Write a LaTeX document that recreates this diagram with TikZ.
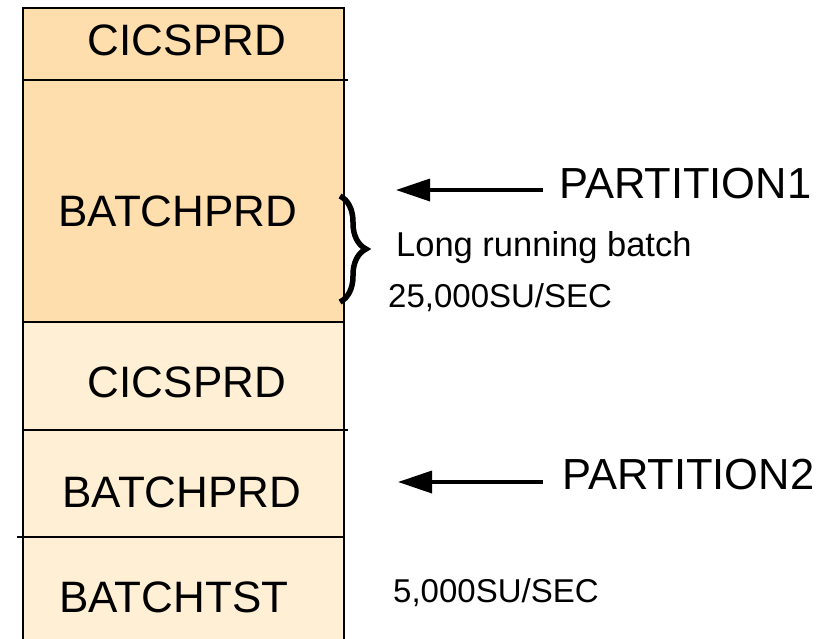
\documentclass[tikz,border=0pt]{standalone}
\usepackage{fontspec}
\setmainfont{Liberation Sans}
\usetikzlibrary{arrows.meta}
\usetikzlibrary{decorations.pathreplacing}
\usetikzlibrary{positioning}
\tikzset{sect/.style = {line width = 2, line cap = rect}}
\tikzset{lbl/.style = {inner sep = 0, font = \fontsize{44}{50}\selectfont}}
\tikzset{plbl/.style = {inner sep = 0, anchor = base west, font = \fontsize{43.5}{50}\selectfont}}
\tikzset{slbl/.style = {inner sep = 0, anchor = base west, font = \fontsize{33}{38}\selectfont}}
\tikzset{parrow/.style = {line width = 3.5, -{Triangle[length = 34, width = 22]}}}
\definecolor{mpeach}{RGB}{255, 222, 173}
\definecolor{mcream}{RGB}{255, 239, 213}

\begin{document}
\begin{tikzpicture}[x = 1pt, y = -1pt]
      \useasboundingbox (0, 0) rectangle (836, 638);

      \begin{scope}
        \clip (0, 0) rectangle (836, 638);
        \fill [mpeach] (23, 8) rectangle (344, 322);
        \fill [mcream] (23, 322) rectangle (344, 660);
        \draw [sect] (23, 660) -- (23, 8) -- (344, 8) -- (344, 660);
        \draw [sect] (23, 80) -- (347, 80);
        \draw [sect] (23, 322) -- (344, 322);
        \draw [sect] (23, 430) -- (347, 430);
        \draw [sect] (18, 537) -- (342, 537);
      \end{scope}

      \node [lbl] (cics1) at (187, 40) {CICSPRD};
      \node [lbl] (batch1) at (178, 211) {BATCHPRD};
      \node [lbl] (cics2) at (187, 382) {CICSPRD};
      \node [lbl] (batch2) at (182, 492) {BATCHPRD};
      \node [lbl] (test) at (174, 597) {BATCHTST};

      \draw [line width = 5.5, decorate, decoration = {brace, amplitude = 26}] (340, 196) -- (340, 302);

      \node [plbl] (part1) at (559, 198) {PARTITION1};
      \node [plbl] (part2) at (562, 489) {PARTITION2};
      \node [slbl] (long) at (396, 256) {\fontsize{34.5}{40}\selectfont Long running batch};
      \node [slbl] (rate1) at (388, 307) {25,000SU/SEC};
      \node [slbl] (rate2) at (393, 602) {5,000SU/SEC};

      \coordinate (tail1) at (543, 190);
      \coordinate (tip1) at (396, 190);
      \coordinate (tail2) at (543, 482);
      \coordinate (tip2) at (398, 482);
      \draw [parrow] (tail1) -- (tip1);
      \draw [parrow] (tail2) -- (tip2);
\end{tikzpicture}
\end{document}
